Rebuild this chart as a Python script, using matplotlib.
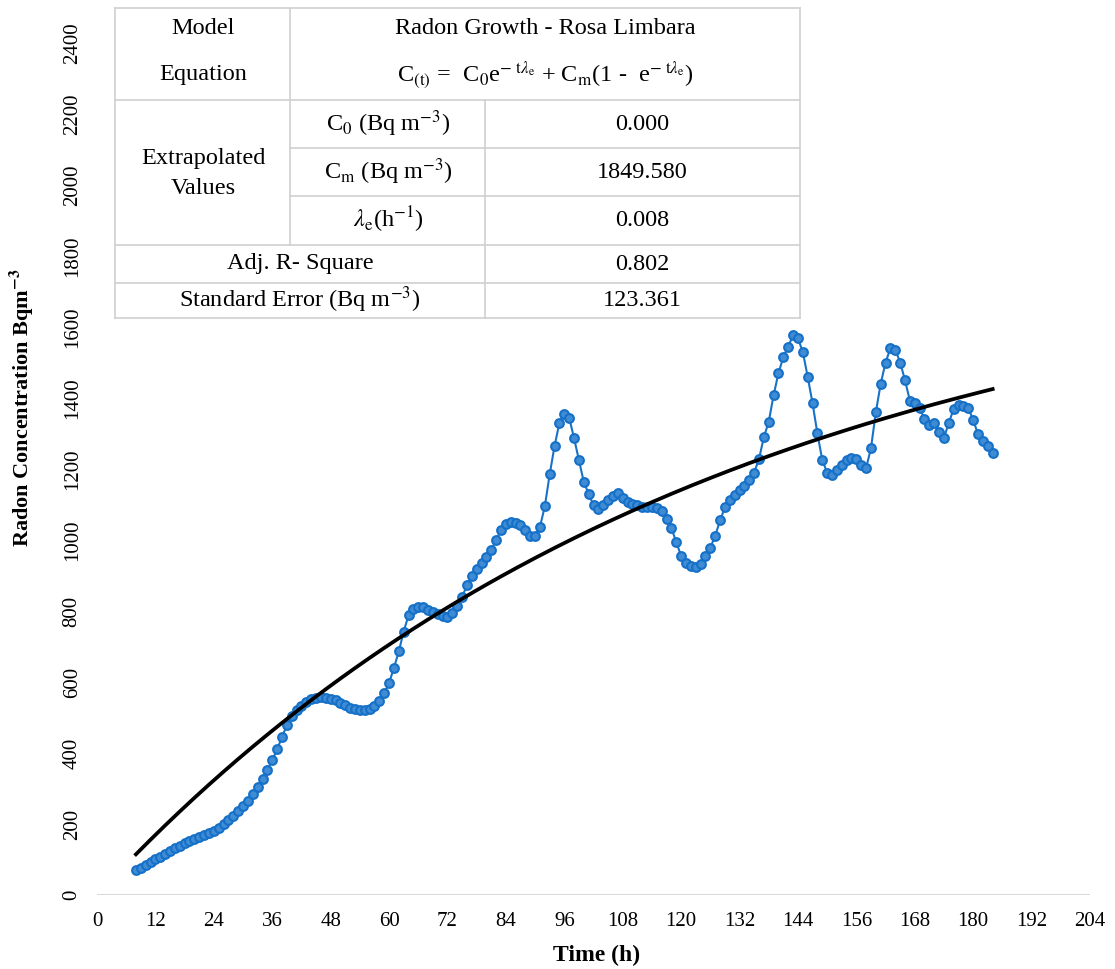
import matplotlib
matplotlib.use("Agg")
import matplotlib.pyplot as plt
import numpy as np

plt.rcParams["font.family"] = ["Liberation Serif", "DejaVu Serif"]
plt.rcParams["mathtext.fontset"] = "stix"

# hourly radon readings (Bq m-3)
HOURS = np.arange(8, 185)
RADON = [
    70, 77, 85, 93, 101, 108, 116, 124, 131, 139,
    146, 152, 158, 163, 168, 174, 181, 190, 200, 211,
    223, 236, 250, 266, 284, 305, 328, 353, 380, 410,
    445, 478, 503, 520, 533, 543, 551, 556, 558, 556,
    553, 548, 542, 535, 528, 523, 520, 521, 525, 533,
    546, 568, 597, 640, 686, 742, 788, 807, 812, 810,
    804, 798, 792, 787, 784, 795, 813, 840, 872, 898,
    917, 934, 951, 972, 1000, 1028, 1044, 1051, 1049, 1042,
    1028, 1012, 1011, 1037, 1095, 1185, 1265, 1330, 1355, 1345,
    1287, 1225, 1164, 1130, 1098, 1087, 1098, 1112, 1125, 1131,
    1119, 1108, 1100, 1098, 1094, 1093, 1093, 1091, 1082, 1058,
    1034, 994, 955, 935, 927, 924, 933, 955, 978, 1012,
    1055, 1092, 1112, 1126, 1140, 1153, 1168, 1190, 1228, 1290,
    1333, 1408, 1470, 1515, 1545, 1577, 1568, 1530, 1460, 1385,
    1300, 1225, 1190, 1183, 1197, 1212, 1224, 1231, 1227, 1212,
    1203, 1258, 1360, 1440, 1500, 1540, 1536, 1500, 1450, 1392,
    1386, 1372, 1340, 1325, 1330, 1305, 1288, 1330, 1370, 1380,
    1377, 1372, 1338, 1298, 1278, 1266, 1245,
]

# fitted model parameters (from the table)
C0 = 0.000
CM = 1849.580
LAMBDA_E = 0.008
ADJ_R2 = 0.802
STD_ERR = 123.361

X_TICKS = list(range(0, 205, 12))
Y_TICKS = list(range(0, 2401, 200))

W, H = 1115, 969
fig = plt.figure(figsize=(W / 100, H / 100), dpi=100)
ax = fig.add_axes([97 / W, 1 - 895 / H, (1090 - 97) / W, (895 - 43) / H])

fit = C0 * np.exp(-HOURS * LAMBDA_E) + CM * (1 - np.exp(-HOURS * LAMBDA_E))

ax.axhline(0, color="#d9d9d9", linewidth=1.5, zorder=1)
ax.plot(HOURS, RADON, color="#1872c8", linewidth=1.5, marker="o", markersize=6.3,
        markerfacecolor="#3f8bd4", markeredgecolor="#1570c8", markeredgewidth=1.5, zorder=2)
ax.plot(HOURS, fit, color="black", linewidth=2.7, zorder=3)

ax.set_xlim(0, 204)
ax.set_ylim(0, 2400)
ax.set_xticks(X_TICKS, labels=[str(v) for v in X_TICKS])
ax.set_yticks(Y_TICKS, labels=[str(v) for v in Y_TICKS], rotation=90, va="center")
ax.tick_params(length=0, labelsize=15)
ax.tick_params(axis="x", pad=12)
ax.tick_params(axis="y", pad=11)
for spine in ax.spines.values():
    spine.set_visible(False)

fig.text(597 / W, 1 - 955 / H, "Time (h)", ha="center", va="center", fontsize=17, fontweight="bold")
fig.text(22 / W, 1 - 408 / H, r"Radon Concentration Bqm$^{\mathbf{-3}}$", ha="center", va="center",
         rotation=90, fontsize=16, fontweight="bold")

# table overlay in pixel coordinates
tab = fig.add_axes([0, 0, 1, 1])
tab.set_xlim(0, W)
tab.set_ylim(H, 0)
tab.axis("off")
tab.fill_between([115, 800], 8, 318, color="white", zorder=0)
grid_c = "#d0d0d0"
lines = [
    ((115, 800), (8, 8)), ((115, 800), (318, 318)),
    ((115, 115), (8, 318)), ((800, 800), (8, 318)),
    ((115, 800), (100, 100)), ((290, 800), (148, 148)), ((290, 800), (196, 196)),
    ((115, 800), (245, 245)), ((115, 800), (283, 283)),
    ((290, 290), (8, 245)), ((485, 485), (100, 318)),
]
for xs, ys in lines:
    tab.plot(xs, ys, color=grid_c, linewidth=1.2)

fs = 17.5
cells = [
    (203, 28, "Model"),
    (203, 74, "Equation"),
    (545, 28, "Radon Growth - Rosa Limbara"),
    (545, 75, r"C$_{(\mathrm{t})}$ =  C$_0$e$^{-\ \mathrm{t}\lambda_\mathrm{e}}$ + C$_\mathrm{m}$(1 -  e$^{-\ \mathrm{t}\lambda_\mathrm{e}}$)"),
    (203, 158, "Extrapolated"),
    (203, 188, "Values"),
    (388, 124, r"C$_0$ (Bq m$^{-3}$)"),
    (388, 172, r"C$_\mathrm{m}$ (Bq m$^{-3}$)"),
    (388, 220, r"$\lambda_\mathrm{e}$(h$^{-1}$)"),
    (642, 124, f"{C0:.3f}"),
    (642, 172, f"{CM:.3f}"),
    (642, 220, f"{LAMBDA_E:.3f}"),
    (300, 264, "Adj. R- Square"),
    (642, 264, f"{ADJ_R2:.3f}"),
    (300, 300, r"Standard Error (Bq m$^{-3}$)"),
    (642, 300, f"{STD_ERR:.3f}"),
]
for x, y, s in cells:
    tab.text(x, y, s, ha="center", va="center", fontsize=fs)

fig.savefig("out.png", dpi=100)
